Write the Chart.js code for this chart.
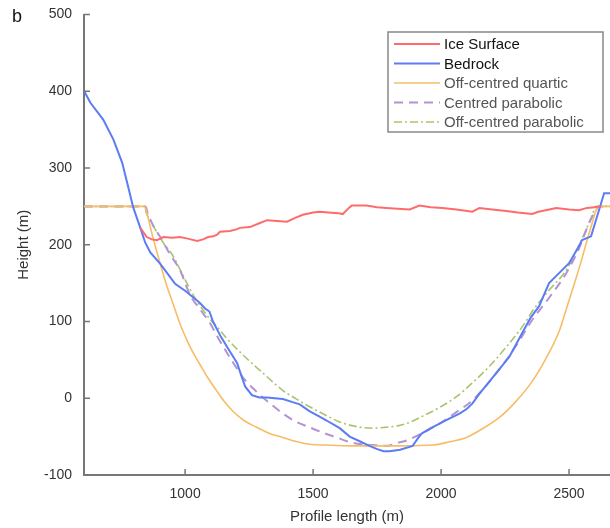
<!DOCTYPE html>
<html><head><meta charset="utf-8">
<script src="https://cdn.jsdelivr.net/npm/chart.js@4/dist/chart.umd.min.js"></script>
<style>html,body{margin:0;padding:0;background:#fff}#wrap{width:610px;height:528px}</style>
</head><body><div id="wrap"><canvas id="c" width="610" height="528"></canvas></div>
<script>
const seriesNames = ['Ice Surface','Bedrock','Off-centred quartic','Centred parabolic','Off-centred parabolic'];
const xTicks = [1000,1500,2000,2500];
const yTicks = [-100,0,100,200,300,400,500];

const iceSurface = [[825,222],[850,210],[870,207],[890,206],[915,210],[950,209],[980,210],[1010,208],[1047,205],[1070,207],[1090,210],[1110,211],[1125,213],[1136,217],[1175,218],[1200,220],[1214,222],[1253,223],[1290,228],[1320,232],[1360,231],[1398,230],[1430,235],[1460,239],[1500,242],[1526,243],[1560,242],[1600,241],[1616,240],[1640,248],[1651,251],[1709,251],[1750,249],[1787,248],[1830,247],[1877,246],[1916,251],[1960,249],[2006,248],[2060,246],[2122,243],[2150,248],[2200,246],[2255,244],[2300,242],[2356,240],[2380,243],[2395,244],[2450,248],[2500,246],[2539,245],[2570,248],[2600,249],[2625,250]];

const bedrock = [[606,400],[630,385],[680,363],[720,337],[754,307],[778,275],[797,249],[825,222],[844,203],[864,190],[903,175],[930,163],[961,149],[1000,140],[1030,132],[1058,124],[1078,117],[1095,113],[1109,100],[1140,80],[1175,61],[1203,46],[1214,35],[1235,15],[1261,4],[1290,1],[1320,1],[1350,0],[1382,-1],[1420,-5],[1448,-8],[1487,-17],[1520,-23],[1553,-29],[1604,-39],[1643,-50],[1682,-56],[1720,-62],[1748,-66],[1775,-69],[1799,-69],[1840,-67],[1889,-62],[1910,-52],[1924,-46],[1960,-39],[1994,-33],[2030,-27],[2072,-20],[2100,-14],[2122,-7],[2150,6],[2180,18],[2216,33],[2267,54],[2317,85],[2350,105],[2383,120],[2422,150],[2461,163],[2500,176],[2530,193],[2551,206],[2586,211],[2605,232],[2617,245],[2637,267],[2660,267]];

const quartic = [[605,250],[840,250],[850,242],[870,215],[903,175],[930,145],[953,123],[980,97],[1008,75],[1030,60],[1058,44],[1090,26],[1125,9],[1150,-3],[1187,-17],[1230,-29],[1281,-38],[1330,-46],[1382,-51],[1430,-56],[1487,-60],[1550,-61],[1650,-62],[1750,-62],[1850,-62],[1966,-61],[2030,-57],[2099,-51],[2160,-40],[2228,-25],[2290,-5],[2356,22],[2410,52],[2461,87],[2490,117],[2512,140],[2547,178],[2567,202],[2590,228],[2606,245],[2615,250],[2660,250]];

const centredParabolic = [[605,250],[845,250],[855,240],[880,222],[903,210],[940,188],[980,167],[1019,135],[1060,115],[1097,98],[1130,78],[1164,59],[1196,42],[1226,27],[1265,13],[1304,1],[1340,-9],[1382,-20],[1430,-30],[1487,-38],[1540,-45],[1592,-51],[1643,-57],[1690,-60],[1733,-61],[1790,-62],[1830,-58],[1865,-55],[1930,-45],[1994,-33],[2060,-18],[2122,-3],[2190,22],[2255,50],[2300,72],[2356,102],[2420,130],[2489,163],[2540,196],[2578,228],[2606,245],[2615,250],[2660,250]];

const offCentredParabolic = [[605,250],[840,250],[850,240],[880,222],[914,203],[950,187],[980,168],[1010,148],[1040,130],[1070,115],[1100,102],[1125,93],[1160,79],[1200,65],[1253,48],[1300,34],[1340,22],[1382,10],[1430,0],[1470,-8],[1514,-16],[1560,-24],[1604,-31],[1643,-35],[1690,-38],[1733,-39],[1780,-38],[1830,-36],[1865,-33],[1930,-23],[1994,-12],[2060,2],[2122,20],[2190,42],[2255,67],[2317,93],[2360,115],[2420,140],[2489,167],[2540,200],[2590,238],[2605,250],[2660,250]];

const pts = a => a.map(p => ({x:p[0], y:p[1]}));
Chart.defaults.font.family = '"Liberation Sans", Arial, sans-serif';
Chart.defaults.color = '#333';

const innerTicks = {
  id:'innerTicks',
  afterDraw(chart){
    const {ctx, chartArea:a, scales:{x,y}} = chart;
    ctx.save();
    ctx.strokeStyle = '#777'; ctx.lineWidth = 1.5;
    x.ticks.forEach((t,i)=>{ const px = x.getPixelForTick(i); ctx.beginPath(); ctx.moveTo(px,a.bottom); ctx.lineTo(px,a.bottom-6); ctx.stroke(); });
    y.ticks.forEach((t,i)=>{ const py = y.getPixelForTick(i); ctx.beginPath(); ctx.moveTo(a.left,py); ctx.lineTo(a.left+6,py); ctx.stroke(); });
    ctx.fillStyle = '#111'; ctx.font = '18px "Liberation Sans", Arial, sans-serif';
    ctx.textBaseline = 'top'; ctx.textAlign = 'left';
    ctx.fillText('b', 12, 8);
    const bx = 388, by = 32, bw = 215, bh = 100;
    ctx.fillStyle = '#fff'; ctx.fillRect(bx,by,bw,bh);
    ctx.strokeStyle = '#888'; ctx.lineWidth = 1.5; ctx.strokeRect(bx,by,bw,bh);
    chart.data.datasets.forEach((ds,i)=>{
      const ry = by + 12 + i*19.5;
      ctx.strokeStyle = ds.borderColor; ctx.lineWidth = ds.borderWidth;
      ctx.setLineDash(ds.borderDash || []);
      ctx.beginPath(); ctx.moveTo(bx+6, ry); ctx.lineTo(bx+52, ry); ctx.stroke();
      ctx.setLineDash([]);
      ctx.fillStyle = i < 2 ? '#111' : '#555';
      ctx.font = '15px "Liberation Sans", Arial, sans-serif';
      ctx.textBaseline = 'middle';
      ctx.fillText(ds.label, bx+56, ry+1);
    });
    ctx.restore();
  }
};

new Chart(document.getElementById('c'), {
  type:'line',
  data:{ datasets:[
    {label:seriesNames[0], data:pts(iceSurface), borderColor:'#ff6b6b', borderWidth:2, pointRadius:0, tension:0},
    {label:seriesNames[1], data:pts(bedrock), borderColor:'#5b7cf5', borderWidth:2, pointRadius:0, tension:0},
    {label:seriesNames[2], data:pts(quartic), borderColor:'#f7bd66', borderWidth:1.6, pointRadius:0, cubicInterpolationMode:'monotone'},
    {label:seriesNames[3], data:pts(centredParabolic), borderColor:'#b393d3', borderWidth:2, borderDash:[9,6], pointRadius:0, cubicInterpolationMode:'monotone'},
    {label:seriesNames[4], data:pts(offCentredParabolic), borderColor:'#a9c46f', borderWidth:1.6, borderDash:[8,3,2,3], pointRadius:0, cubicInterpolationMode:'monotone'}
  ]},
  options:{
    responsive:false, animation:false,
    layout:{padding:{left:0,right:0,top:14.5,bottom:0}},
    plugins:{legend:{display:false}, tooltip:{enabled:false}},
    scales:{
      x:{type:'linear', min:605, max:2660,
        afterBuildTicks:s=>{s.ticks = xTicks.map(v=>({value:v}));},
        afterFit:s=>{s.height = 53;},
        grid:{display:false}, border:{display:true,color:'#777',width:2},
        ticks:{padding:3, color:'#333', font:{size:14}, callback:v=>String(v)},
        title:{display:true, text:'Profile length (m)', color:'#333', font:{size:15}, padding:{top:0,bottom:2}}
      },
      y:{type:'linear', min:-100, max:500,
        afterBuildTicks:s=>{s.ticks = yTicks.map(v=>({value:v}));},
        afterFit:s=>{s.width = 84;},
        grid:{display:false}, border:{display:true,color:'#777',width:2},
        ticks:{padding:4, color:'#333', font:{size:14}, callback:v=>String(v)},
        title:{display:true, text:'Height (m)', color:'#333', font:{size:15}, padding:{top:15,bottom:0}}
      }
    }
  },
  plugins:[innerTicks]
});
</script></body></html>
